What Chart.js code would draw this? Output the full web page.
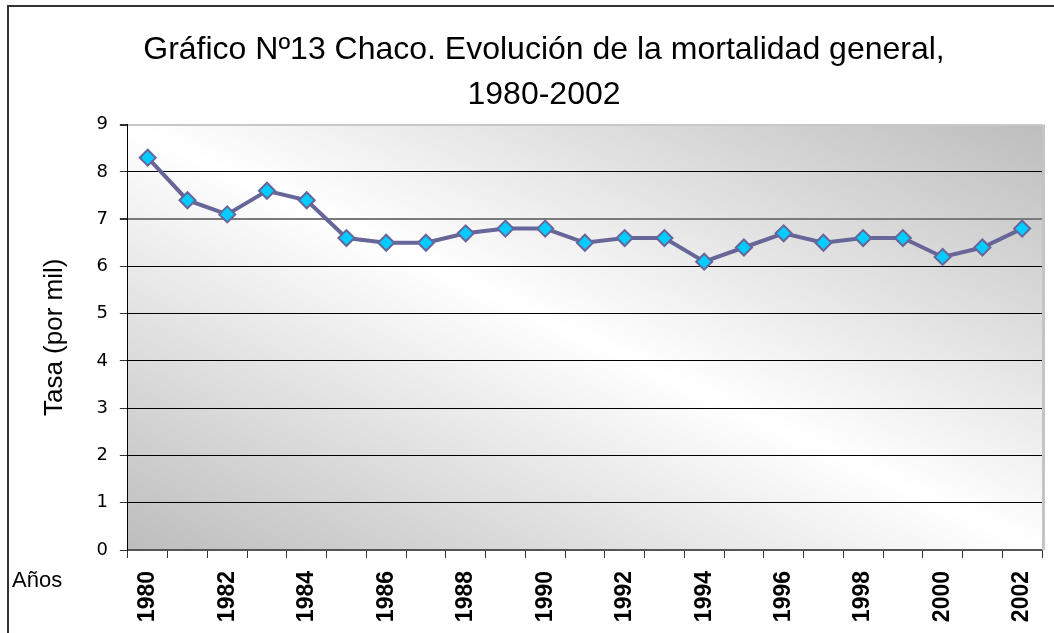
<!DOCTYPE html>
<html lang="es">
<head>
<meta charset="utf-8">
<title>Chaco - mortalidad general 1980-2002</title>
<script src="https://cdn.jsdelivr.net/npm/chart.js@4/dist/chart.umd.min.js"></script>
<style>
	html, body { margin: 0; padding: 0; background: #fff; }
	canvas { display: block; }
</style>
</head>
<body>
<canvas id="chart" width="1054" height="633"></canvas>
<script>
	'use strict';

	const TITLE = [ 'Gráfico Nº13 Chaco. Evolución de la mortalidad general,', '1980-2002' ];
	const Y_TITLE = 'Tasa (por mil)';
	const X_TITLE = 'Años';

	const years = [ '1980', '1981', '1982', '1983', '1984', '1985', '1986', '1987', '1988', '1989', '1990', '1991',
		'1992', '1993', '1994', '1995', '1996', '1997', '1998', '1999', '2000', '2001', '2002' ];

	// Tasa de mortalidad general (por mil).
	const rates = [ 8.3, 7.4, 7.1, 7.6, 7.4, 6.6, 6.5, 6.5, 6.7, 6.8, 6.8, 6.5,
		6.6, 6.6, 6.1, 6.4, 6.7, 6.5, 6.6, 6.6, 6.2, 6.4, 6.8 ];

	const yTicks = { min: 0, max: 9, step: 1 };

	// Gray diagonal gradient behind the plot + outer frame + "Años" label.
	const decor = {
		id: 'decor',
		beforeDraw( chart ) {
			const { ctx, chartArea: a } = chart;
			const w = a.right - a.left, h = a.bottom - a.top;
			const cx = ( a.left + a.right ) / 2, cy = ( a.top + a.bottom ) / 2;
			const k = ( w * h ) / ( w * w + h * h );
			const g = ctx.createLinearGradient( cx - k * h, cy + k * w, cx + k * h, cy - k * w );
			g.addColorStop( 0, '#bdbdbd' );
			g.addColorStop( 0.5, '#ffffff' );
			g.addColorStop( 1, '#bdbdbd' );
			ctx.save();
			ctx.fillStyle = g;
			ctx.fillRect( a.left, a.top, w, h );
			ctx.restore();
		},
		beforeDatasetsDraw( chart ) {
			const { ctx, chartArea: a } = chart;
			ctx.save();
			ctx.strokeStyle = '#c4c4c4';
			ctx.lineWidth = 3;
			ctx.beginPath();
			ctx.moveTo( a.right + 1.5, a.top );
			ctx.lineTo( a.right + 1.5, a.bottom );
			ctx.stroke();
			ctx.restore();
		},
		afterDraw( chart ) {
			const { ctx, chartArea: a } = chart;
			ctx.save();
			ctx.strokeStyle = '#333';
			ctx.lineWidth = 2;
			ctx.beginPath();
			ctx.moveTo( 8, chart.height );
			ctx.lineTo( 8, 6 );
			ctx.lineTo( chart.width, 6 );
			ctx.stroke();
			ctx.fillStyle = '#000';
			ctx.font = '22px "Liberation Sans", Arial, sans-serif';
			ctx.textBaseline = 'middle';
			ctx.fillText( X_TITLE, 12, a.bottom + 31 );
			ctx.restore();
		},
	};

	new Chart( document.getElementById( 'chart' ), {
		type: 'line',
		data: {
			labels: years,
			datasets: [ {
				data: rates,
				borderColor: '#666699',
				borderWidth: 4,
				backgroundColor: '#00ccff',
				pointBackgroundColor: '#00ccff',
				pointBorderColor: '#666699',
				pointBorderWidth: 2,
				pointStyle: 'rectRot',
				pointRadius: 8,
				tension: 0,
			} ],
		},
		options: {
			responsive: false,
			animation: false,
			layout: { padding: { left: 46, right: 12, top: 0, bottom: 0 } },
			plugins: {
				legend: { display: false },
				tooltip: { enabled: false },
				title: {
					display: true,
					text: TITLE,
					color: '#000',
					font: { family: '"Liberation Sans", Arial, sans-serif', size: 32, weight: 'normal', lineHeight: 1.4 },
					padding: { top: 28, bottom: 7 },
				},
			},
			scales: {
				x: {
					offset: true,
					// fixed axis band so the plot ends where the original does
					afterFit: ( s ) => {
						s.height = 83;
						s.paddingRight = 0;
					},
					grid: { offset: true, drawOnChartArea: false, drawTicks: true, tickLength: 8, tickColor: '#333' },
					border: { color: '#555', width: 2 },
					ticks: {
						autoSkip: false,
						minRotation: 90,
						maxRotation: 90,
						padding: 13,
						color: '#000',
						font: { family: '"Liberation Sans", Arial, sans-serif', size: 23, weight: 'bold' },
						callback: ( v, i ) => ( i % 2 === 0 ? years[ i ] : '' ),
					},
				},
				y: {
					min: yTicks.min,
					max: yTicks.max,
					border: { color: '#000', width: 1 },
					grid: {
						tickLength: 8,
						tickColor: '#333',
						color: ( c ) => ( c.tick && c.tick.value === 9 ? '#c8c8c8' : c.tick && c.tick.value === 7 ? '#7a7a7a' : '#000' ),
						lineWidth: ( c ) => ( c.tick && ( c.tick.value === 9 || c.tick.value === 7 ) ? 2 : 1 ),
					},
					ticks: {
						stepSize: yTicks.step,
						padding: 12,
						color: '#000',
						font: { family: '"DejaVu Sans", Verdana, sans-serif', size: 18 },
					},
					title: {
						display: true,
						text: Y_TITLE,
						color: '#000',
						font: { family: '"Liberation Sans", Arial, sans-serif', size: 26, lineHeight: 0.4 },
						padding: { top: 4, bottom: 24 },
					},
				},
			},
		},
		plugins: [ decor ],
	} );
</script>
</body>
</html>
